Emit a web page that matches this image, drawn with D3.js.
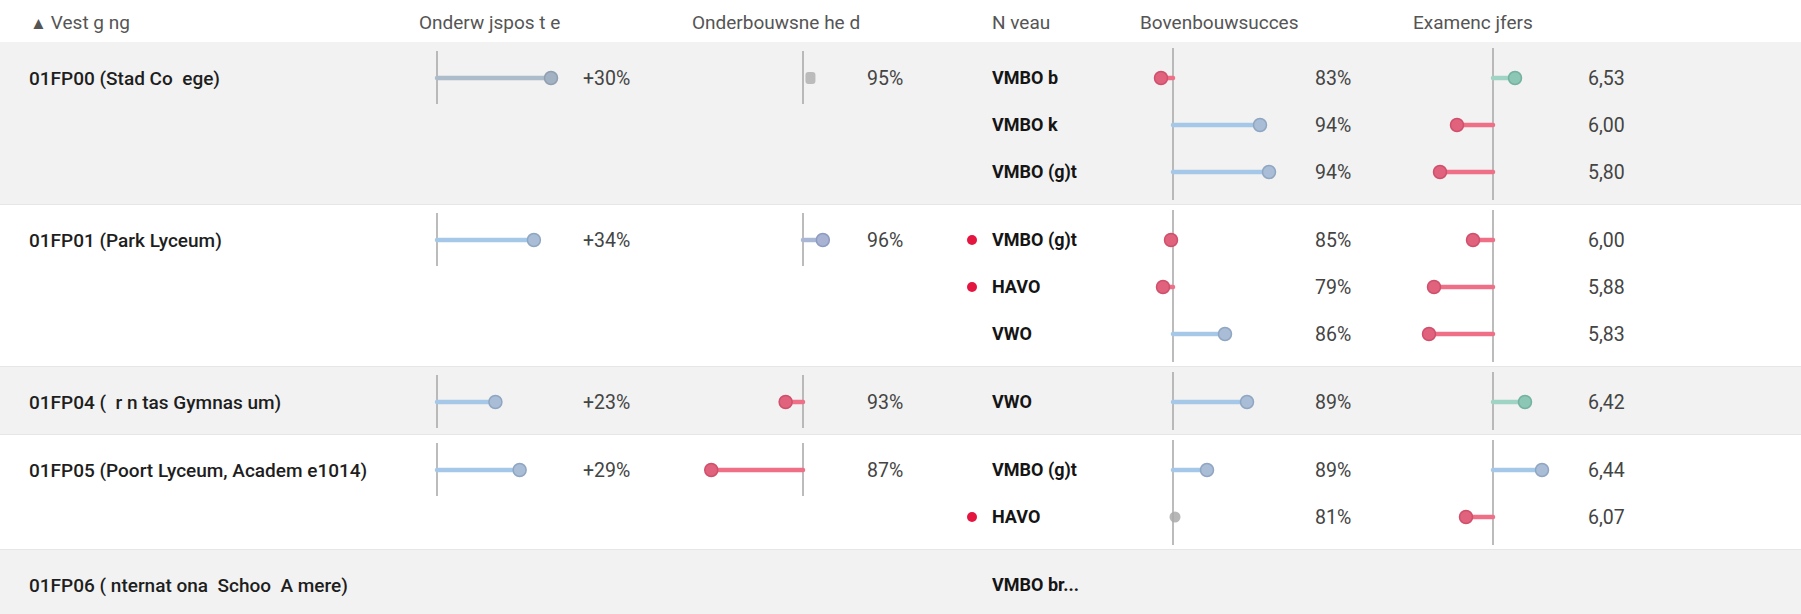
<!DOCTYPE html>
<html><head><meta charset="utf-8">
<script src="https://cdn.jsdelivr.net/npm/d3@7"></script>
<style>
html,body{margin:0;padding:0;background:#fff;}
svg{display:block;font-family:Roboto,"Noto Sans",sans-serif;}
svg text{white-space:pre;}
</style></head>
<body>
<div id="chart"></div>
<script>
// ---------- data ----------
const headers = ["Vest g ng", "Onderw jspos t e", "Onderbouwsne he d", "N veau", "Bovenbouwsucces", "Examenc jfers"];

const schoolName = ["01FP00 (Stad Co  ege)", "01FP01 (Park Lyceum)", "01FP04 (  r n tas Gymnas um)", "01FP05 (Poort Lyceum, Academ e1014)", "01FP06 ( nternat ona  Schoo  A mere)"];
const onderwijsLabel = ["+30%", "+34%", "+23%", "+29%", null];
const onderwijsBar = [40, 34, 20.5, 29, null];
const onderwijsTone = ["muted", "pos", "pos", "pos", null];
const onderbouwNorm = 94.4;
const onderbouwValue = [95, 96, 93, 87, null];
const onderbouwLabel = ["95%", "96%", "93%", "87%", null];
const onderbouwTone = ["neutral", "lav", "neg", "neg", null];

const levelSchool = [0, 0, 0, 1, 1, 1, 2, 3, 3, 4];
const levelName = ["VMBO b", "VMBO k", "VMBO (g)t", "VMBO (g)t", "HAVO", "VWO", "VWO", "VMBO (g)t", "HAVO", "VMBO br..."];
const levelAlert = [0, 0, 0, 1, 1, 0, 0, 0, 1, 0];
const bovenLabel = ["83%", "94%", "94%", "85%", "79%", "86%", "89%", "89%", "81%", null];
const bovenDev = [-1.2, 8.7, 9.6, -0.2, -1.0, 5.2, 7.4, 3.4, 0.2, null];
const bovenTone = ["neg", "pos", "pos", "neg", "neg", "pos", "pos", "pos", "neutral", null];
const examLabel = ["6,53", "6,00", "5,80", "6,00", "5,88", "5,83", "6,42", "6,44", "6,07", null];
const examDev = [0.22, -0.36, -0.53, -0.20, -0.59, -0.64, 0.32, 0.49, -0.27, null];
const examTone = ["teal", "neg", "neg", "neg", "neg", "neg", "teal", "pos", "neg", null];

// ---------- layout ----------
const W = 1801, H = 614;
const headerH = 42, rowPitch = 47, firstOffset = 36, groupExtra = 68;
const col = {name: 29, h1: 30, c2h: 419, c2b: 437, c2l: 583, c3h: 692, c3b: 803, c3l: 867,
             dot: 972, lvl: 992, c5h: 1140, c5b: 1173, c5l: 1315, c6h: 1413, c6b: 1493, c6l: 1588};

const tones = {
  pos:     {line: "#a6c8e8", fill: "#a9bdd6", stroke: "#8fa6c2"},
  muted:   {line: "#adbccb", fill: "#a3b2c3", stroke: "#8f9fb1"},
  lav:     {line: "#a9b6d6", fill: "#a8b3d3", stroke: "#8e9bc0"},
  neg:     {line: "#ef6f86", fill: "#e0627d", stroke: "#d0506c"},
  neutral: {line: "#b5b5b5", fill: "#b2b2b2", stroke: "#a0a0a0"},
  teal:    {line: "#9fd3c3", fill: "#8cc6b5", stroke: "#74b2a0"}
};

const xOnderwijs = d3.scaleLinear().domain([0, 40]).range([col.c2b, col.c2b + 114]);
const xOnderbouw = d3.scaleLinear().domain([onderbouwNorm, onderbouwNorm + 10]).range([col.c3b, col.c3b + 124]);
const xBoven = d3.scaleLinear().domain([0, 10]).range([col.c5b, col.c5b + 100]);
const xExam = d3.scaleLinear().domain([0, 1]).range([col.c6b, col.c6b + 100]);

// group geometry
const counts = schoolName.map((_, s) => levelSchool.filter(v => v === s).length);
const groupTop = [];
let acc = headerH;
counts.forEach((n, s) => { groupTop.push(acc); acc += groupExtra + (n - 1) * rowPitch; });
const groupH = counts.map(n => groupExtra + (n - 1) * rowPitch);
const levelIdxInGroup = levelSchool.map((s, i) => levelSchool.slice(0, i).filter(v => v === s).length);
const levelY = levelSchool.map((s, i) => groupTop[s] + firstOffset + levelIdxInGroup[i] * rowPitch);
const schoolY = schoolName.map((_, s) => groupTop[s] + firstOffset);

// ---------- draw ----------
const svg = d3.select("#chart").append("svg").attr("width", W).attr("height", H);
svg.append("rect").attr("width", W).attr("height", H).attr("fill", "#fff");

// group bands
svg.selectAll("rect.band").data(schoolName).join("rect")
  .attr("class", "band")
  .attr("x", 0).attr("y", (d, s) => groupTop[s])
  .attr("width", W).attr("height", (d, s) => groupH[s])
  .attr("fill", (d, s) => s % 2 === 0 ? "#f2f2f2" : "#ffffff");

// separators
svg.selectAll("line.sep").data(schoolName.slice(1)).join("line")
  .attr("x1", 0).attr("x2", W)
  .attr("y1", (d, i) => groupTop[i + 1] + 0.5).attr("y2", (d, i) => groupTop[i + 1] + 0.5)
  .attr("stroke", "#e6e6e6").attr("stroke-width", 1);

// headers
const hdr = svg.append("g").attr("font-size", 19).attr("fill", "#555");
const h0 = hdr.append("text").attr("x", col.h1).attr("y", 22).attr("dy", "0.35em");
h0.append("tspan").attr("font-size", 17).text("▲");
h0.append("tspan").attr("dx", 4).text(headers[0]);
[[col.c2h, 1], [col.c3h, 2], [col.lvl, 3], [col.c5h, 4], [col.c6h, 5]].forEach(([x, i]) => {
  hdr.append("text").attr("x", x).attr("y", 22).attr("dy", "0.35em").text(headers[i]);
});

// school names
svg.selectAll("text.school").data(schoolName).join("text")
  .attr("x", col.name).attr("y", (d, s) => schoolY[s]).attr("dy", "0.35em")
  .attr("font-size", 19).attr("font-weight", 500).attr("fill", "#1e1e1e")
  .text(d => d);

// baselines for school-level columns
const hasSchoolVal = schoolName.map((d, s) => onderwijsLabel[s] !== null);
[col.c2b, col.c3b].forEach(bx => {
  schoolName.forEach((d, s) => {
    if (!hasSchoolVal[s]) return;
    svg.append("line").attr("x1", bx).attr("x2", bx)
      .attr("y1", schoolY[s] - 27).attr("y2", schoolY[s] + 26)
      .attr("stroke", "#a6a6a6").attr("stroke-width", 1.5);
  });
});

// baselines for level columns (span group)
[col.c5b, col.c6b].forEach(bx => {
  schoolName.forEach((d, s) => {
    const idx = levelSchool.map((v, i) => v === s ? i : -1).filter(i => i >= 0 && bovenLabel[i] !== null);
    if (!idx.length) return;
    svg.append("line").attr("x1", bx).attr("x2", bx)
      .attr("y1", levelY[idx[0]] - 30).attr("y2", levelY[idx[idx.length - 1]] + 28)
      .attr("stroke", "#a6a6a6").attr("stroke-width", 1.5);
  });
});

function lollipop(g, x0, x1, y, toneKey) {
  const t = tones[toneKey];
  if (toneKey === "neutral") {
    g.append("rect").attr("x", x1 - 5).attr("y", y - 6).attr("width", 10).attr("height", 12)
      .attr("rx", 3).attr("fill", t.fill).attr("opacity", 0.85);
    return;
  }
  g.append("line").attr("x1", x0).attr("x2", x1).attr("y1", y).attr("y2", y)
    .attr("stroke", t.line).attr("stroke-width", 4.5).attr("stroke-linecap", "round");
  g.append("circle").attr("cx", x1).attr("cy", y).attr("r", 6.5)
    .attr("fill", t.fill).attr("stroke", t.stroke).attr("stroke-width", 1.5);
}

const marks = svg.append("g");
const valTxt = svg.append("g").attr("font-size", 19.5).attr("fill", "#444");

schoolName.forEach((d, s) => {
  if (onderwijsLabel[s] === null) return;
  lollipop(marks, col.c2b, xOnderwijs(onderwijsBar[s]), schoolY[s], onderwijsTone[s]);
  valTxt.append("text").attr("x", col.c2l).attr("y", schoolY[s]).attr("dy", "0.35em").text(onderwijsLabel[s]);
  lollipop(marks, col.c3b, xOnderbouw(onderbouwValue[s]), schoolY[s], onderbouwTone[s]);
  valTxt.append("text").attr("x", col.c3l).attr("y", schoolY[s]).attr("dy", "0.35em").text(onderbouwLabel[s]);
});

// levels
svg.selectAll("text.lvl").data(levelName).join("text")
  .attr("x", col.lvl).attr("y", (d, i) => levelY[i]).attr("dy", "0.35em")
  .attr("font-size", 18).attr("font-weight", 700).attr("fill", "#151515")
  .text(d => d);

svg.selectAll("circle.alert").data(levelName.map((d, i) => i).filter(i => levelAlert[i])).join("circle")
  .attr("cx", col.dot).attr("cy", i => levelY[i]).attr("r", 5).attr("fill", "#e4163f");

levelName.forEach((d, i) => {
  if (bovenLabel[i] === null) return;
  const y = levelY[i];
  if (bovenTone[i] === "neutral") {
    marks.append("circle").attr("cx", xBoven(bovenDev[i])).attr("cy", y).attr("r", 5.5)
      .attr("fill", "#aaaaaa").attr("opacity", 0.85);
  } else {
    lollipop(marks, col.c5b, xBoven(bovenDev[i]), y, bovenTone[i]);
  }
  valTxt.append("text").attr("x", col.c5l).attr("y", y).attr("dy", "0.35em").text(bovenLabel[i]);
  lollipop(marks, col.c6b, xExam(examDev[i]), y, examTone[i]);
  valTxt.append("text").attr("x", col.c6l).attr("y", y).attr("dy", "0.35em").text(examLabel[i]);
});
</script>
</body></html>
